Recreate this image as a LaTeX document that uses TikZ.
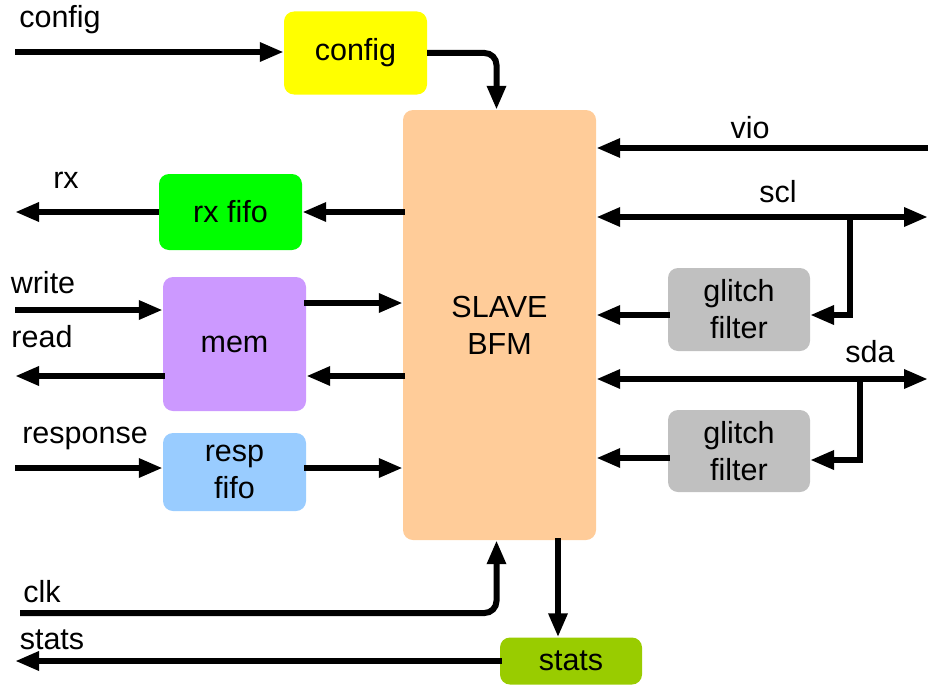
\documentclass[tikz,border=0pt]{standalone}
\usepackage{fontspec}
\setmainfont{Liberation Sans}
\usetikzlibrary{arrows.meta,calc}
\definecolor{cfgc}{HTML}{FFFF00}
\definecolor{rxc}{HTML}{00FF00}
\definecolor{memc}{HTML}{CC99FF}
\definecolor{respc}{HTML}{99CCFF}
\definecolor{slavec}{HTML}{FFCC99}
\definecolor{gfc}{HTML}{C0C0C0}
\definecolor{statc}{HTML}{99CC00}
\begin{document}
\begin{tikzpicture}[x=1pt,y=-1pt,
  every node/.style={font=\fontsize{30.5}{37}\selectfont},
  blk/.style={rounded corners=10pt, inner sep=0pt, align=center},
  arr/.style={line width=6pt, -{Triangle[length=24pt,width=18pt]}, line join=miter},
  barr/.style={line width=6pt, {Triangle[length=24pt,width=18pt]}-{Triangle[length=24pt,width=18pt]}},
  lbl/.style={inner sep=0pt}]
\useasboundingbox (0,0) rectangle (928,685);
% blocks
\node[blk, fill=cfgc, minimum width=143pt, minimum height=83pt] (cfg) at (355.5,53) {config};
\node[blk, fill=slavec, minimum width=193pt, minimum height=430pt] (slave) at (499.5,325) {SLAVE\\BFM};
\node[blk, fill=rxc, minimum width=143pt, minimum height=76pt] (rxf) at (230.5,212) {rx fifo};
\node[blk, fill=memc, minimum width=143pt, minimum height=134pt] (mem) at (234.5,344) {mem};
\node[blk, fill=respc, minimum width=143pt, minimum height=78pt] (resp) at (234.5,472) {resp\\fifo};
\node[blk, fill=gfc, minimum width=142pt, minimum height=83pt] (gfa) at (739,309.5) {glitch\\filter};
\node[blk, fill=gfc, minimum width=142pt, minimum height=82pt] (gfb) at (739,451) {glitch\\filter};
\node[blk, fill=statc, minimum width=142pt, minimum height=47pt] (stats) at (571,661) {stats};
% labels
\node[lbl] (lcfg) at (60,20) {config};
\node[lbl] (lrx) at (66,180) {rx};
\node[lbl] (lwr) at (43,283) {write};
\node[lbl] (lrd) at (42,337) {read};
\node[lbl] (lresp) at (85,438) {response};
\node[lbl] (lclk) at (42,592) {clk};
\node[lbl] (lstats) at (52,640) {stats};
\node[lbl] (lvio) at (750,128) {vio};
\node[lbl] (lscl) at (778,192) {scl};
\node[lbl] (lsda) at (870,352) {sda};
% free ends
\coordinate (cfgin) at (15,52);
\coordinate (rxout) at (15,212);
\coordinate (wrin) at (15,310);
\coordinate (m2s) at (304,303);
\coordinate (s2m) at (405,376);
\coordinate (rdout) at (15,376);
\coordinate (rspin) at (15,468);
\coordinate (vioin) at (928,148);
\coordinate (sclend) at (928,217);
\coordinate (sclbr) at (850,217);
\coordinate (gfain) at (810,315);
\coordinate (sdaend) at (928,379);
\coordinate (sdabr) at (860,379);
\coordinate (gfbin) at (810,460);
\coordinate (clkin) at (20,613);
\coordinate (stout) at (15,661);
\coordinate (s2st) at (558,538);
% connectors
\draw[arr] (cfgin) -- (cfg.west |- cfgin);
\draw[arr, rounded corners=12pt] (cfg.east) -| ([xshift=-3pt]slave.north);
\draw[arr] ([xshift=2pt]slave.west |- rxf) -- (rxf.east);
\draw[arr] (rxf.west) -- (rxout);
\draw[arr] (wrin) -- (mem.west |- wrin);
\draw[arr] (m2s) -- (slave.west |- m2s);
\draw[arr] (s2m) -- (mem.east |- s2m);
\draw[arr] ([xshift=2pt]mem.west |- rdout) -- (rdout);
\draw[arr] (rspin) -- (resp.west |- rspin);
\draw[arr] ([xshift=-2pt]resp.east |- rspin) -- (slave.west |- rspin);
\draw[arr] (vioin) -- (slave.east |- vioin);
\draw[barr] (slave.east |- sclend) -- (sclend);
\draw[arr] (sclbr) |- (gfain);
\draw[arr] ([xshift=2pt]gfa.west |- gfain) -- (slave.east |- gfain);
\draw[barr] (slave.east |- sdaend) -- (sdaend);
\draw[arr] (sdabr) |- (gfbin);
\draw[arr] ($(gfb.west |- gfbin)+(2,-2)$) -- ($(slave.east |- gfbin)+(0,-2)$);
\draw[arr, rounded corners=12pt] (clkin) -| ([xshift=-3pt]slave.south);
\draw[arr] (s2st) -- (stats.north -| s2st);
\draw[arr] ([xshift=2pt]stats.west) -- (stout);
\end{tikzpicture}
\end{document}
